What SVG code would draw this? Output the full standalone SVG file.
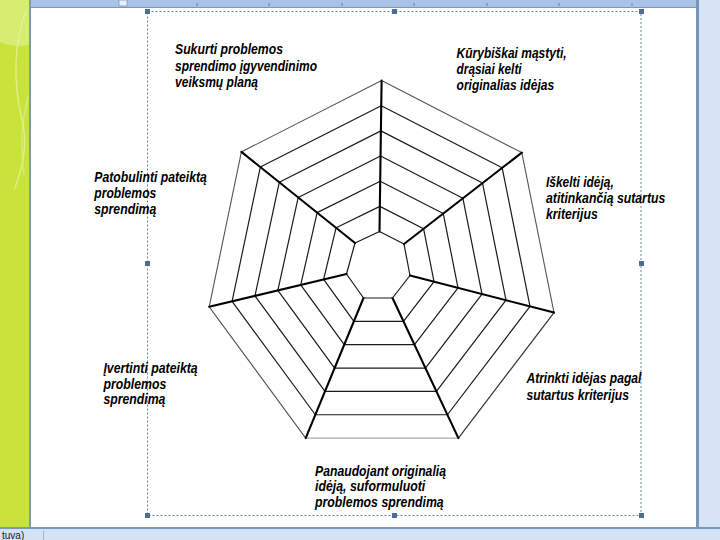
<svg xmlns="http://www.w3.org/2000/svg" width="720" height="540" viewBox="0 0 720 540">
<style>
.lbl{font-family:"Liberation Sans",Arial,sans-serif;font-size:14px;font-weight:bold;font-style:italic;fill:#000}
.ring{fill:none;stroke:#1a1a1a;stroke-width:1.2;stroke-linejoin:round}
.spoke{stroke:#000;stroke-width:2.1;stroke-linecap:round}
.hdl{fill:#4f6d94}
.tick{stroke:#5f7ea8;stroke-width:1}
</style>
<rect width="720" height="540" fill="#ffffff"/>
<g id="chrome">
  <rect x="0" y="0" width="29" height="540" fill="#c9e33b"/>
  <path d="M0,0 H29 V45 Q12,48 0,42 Z" fill="#dbee80" opacity="0.8"/>
  <path d="M26,10 Q8,60 22,120 Q30,150 14,190" fill="none" stroke="#e6f3a8" stroke-width="1.5" opacity="0.7"/>
  <path d="M29,95 Q18,130 24,175" fill="none" stroke="#e0f09a" stroke-width="1.5" opacity="0.6"/>
  <rect x="29" y="0" width="2" height="529" fill="#7d97bb"/>
  <rect x="31" y="0" width="689" height="7" fill="#a9c3e6"/>
  <line x1="31" y1="7.5" x2="700" y2="7.5" stroke="#7b96bb" stroke-width="1"/>
  <rect x="119" y="0" width="8" height="6" fill="#e9f0fa" stroke="#7f98bb" stroke-width="0.8"/>
  <line class="tick" x1="197" y1="3" x2="197" y2="6"/>
  <line class="tick" x1="269" y1="3" x2="269" y2="6"/>
  <line class="tick" x1="342" y1="3" x2="342" y2="6"/>
  <line class="tick" x1="414" y1="3" x2="414" y2="6"/>
  <line class="tick" x1="487" y1="3" x2="487" y2="6"/>
  <line class="tick" x1="559" y1="3" x2="559" y2="6"/>
  <line class="tick" x1="632" y1="3" x2="632" y2="6"/>
  <rect x="696" y="0" width="3" height="529" fill="#7b96bb"/>
  <rect x="699" y="0" width="21" height="529" fill="#d6e4f6"/>
  <rect x="0" y="527" width="720" height="2" fill="#7b96bb"/>
  <rect x="0" y="529" width="720" height="11" fill="#d3e2f4"/>
  <line x1="43.5" y1="530" x2="43.5" y2="540" stroke="#9fb5d2" stroke-width="1"/>
  <text x="2" y="539" font-family="'Liberation Sans',Arial,sans-serif" font-size="10" fill="#222">tuva)</text>
</g>
<g id="selection">
  <rect x="147.5" y="11.5" width="493.5" height="504" fill="none" stroke="#6a87aa" stroke-width="1" stroke-dasharray="2,2"/>
  <rect class="hdl" x="145" y="9" width="5" height="5"/>
  <rect class="hdl" x="392" y="9" width="5" height="5"/>
  <rect class="hdl" x="639" y="9" width="5" height="5"/>
  <rect class="hdl" x="145" y="261" width="5" height="5"/>
  <rect class="hdl" x="639" y="261" width="5" height="5"/>
  <rect class="hdl" x="145" y="513" width="5" height="5"/>
  <rect class="hdl" x="392" y="513" width="5" height="5"/>
  <rect class="hdl" x="639" y="513" width="5" height="5"/>
</g>
<g id="web">
  <polyline points="381.6,80.6 521.8,152.6 554,312.6" fill="none" stroke="#555" stroke-width="1.1"/>
  <polyline points="305.7,438.1 209.2,306.8 241.4,151.9 381.6,80.6" fill="none" stroke="#555" stroke-width="1.1"/>
  <polyline points="554,312.6 458.4,438.1" fill="none" stroke="#333" stroke-width="1.2"/>
  <line x1="305.7" y1="438.1" x2="458.4" y2="438.1" stroke="#aaa" stroke-width="1.2"/>
  <polygon class="ring" points="381.25,105.75 502.17,167.83 530,306.42 447.42,414.75 315.33,414.75 232.08,301.33 260.33,167.08"/>
  <polygon class="ring" points="380.9,130.9 482.53,183.07 506,300.23 436.43,391.4 324.97,391.4 254.97,295.87 279.27,182.27"/>
  <polygon class="ring" points="380.55,156.05 462.9,198.3 482,294.05 425.45,368.05 334.6,368.05 277.85,290.4 298.2,197.45"/>
  <polygon class="ring" points="380.2,181.2 443.27,213.53 458,287.87 414.47,344.7 344.23,344.7 300.73,284.93 317.13,212.63"/>
  <polygon class="ring" points="379.85,206.35 423.63,228.77 434,281.68 403.48,321.35 353.87,321.35 323.62,279.47 336.07,227.82"/>
  <polygon class="ring" points="379.5,231.5 404,244 410,275.5 392.5,298 363.5,298 346.5,274 355,243"/>
</g>
<g id="connectors">
  <line class="spoke" x1="381.6" y1="80.6" x2="379.5" y2="231.5"/>
  <line class="spoke" x1="521.8" y1="152.6" x2="404" y2="244"/>
  <line class="spoke" x1="554" y1="312.6" x2="410" y2="275.5"/>
  <line class="spoke" x1="458.4" y1="438.1" x2="392.5" y2="298"/>
  <line class="spoke" x1="305.7" y1="438.1" x2="363.5" y2="298"/>
  <line class="spoke" x1="209.2" y1="306.8" x2="346.5" y2="274"/>
  <line class="spoke" x1="241.4" y1="151.9" x2="355" y2="243"/>
</g>
<g id="n1">
  <text class="lbl" x="175" y="54.2" textLength="108" lengthAdjust="spacingAndGlyphs">Sukurti problemos</text>
  <text class="lbl" x="175" y="70.5" textLength="142" lengthAdjust="spacingAndGlyphs">sprendimo įgyvendinimo</text>
  <text class="lbl" x="175" y="86.8" textLength="83" lengthAdjust="spacingAndGlyphs">veiksmų planą</text>
</g>
<g id="n2">
  <text class="lbl" x="456.6" y="57.5" textLength="110" lengthAdjust="spacingAndGlyphs">Kūrybiškai mąstyti,</text>
  <text class="lbl" x="456.6" y="74" textLength="65" lengthAdjust="spacingAndGlyphs">drąsiai kelti</text>
  <text class="lbl" x="456.6" y="90.2" textLength="97.5" lengthAdjust="spacingAndGlyphs">originalias idėjas</text>
</g>
<g id="n3">
  <text class="lbl" x="94.3" y="182" textLength="112.6" lengthAdjust="spacingAndGlyphs">Patobulinti pateiktą</text>
  <text class="lbl" x="94.3" y="198" textLength="62" lengthAdjust="spacingAndGlyphs">problemos</text>
  <text class="lbl" x="94.3" y="213.5" textLength="62" lengthAdjust="spacingAndGlyphs">sprendimą</text>
</g>
<g id="n4">
  <text class="lbl" x="546" y="187.2" textLength="67.8" lengthAdjust="spacingAndGlyphs">Iškelti idėją,</text>
  <text class="lbl" x="546" y="203.3" textLength="119.3" lengthAdjust="spacingAndGlyphs">atitinkančią sutartus</text>
  <text class="lbl" x="546" y="218.8" textLength="51.7" lengthAdjust="spacingAndGlyphs">kriterijus</text>
</g>
<g id="n5">
  <text class="lbl" x="103.4" y="373" textLength="94.3" lengthAdjust="spacingAndGlyphs">Įvertinti pateiktą</text>
  <text class="lbl" x="103.4" y="388.5" textLength="63" lengthAdjust="spacingAndGlyphs">problemos</text>
  <text class="lbl" x="103.4" y="404" textLength="62" lengthAdjust="spacingAndGlyphs">sprendimą</text>
</g>
<g id="n6">
  <text class="lbl" x="526.4" y="383.3" textLength="115" lengthAdjust="spacingAndGlyphs">Atrinkti idėjas pagal</text>
  <text class="lbl" x="526.4" y="399.5" textLength="102.6" lengthAdjust="spacingAndGlyphs">sutartus kriterijus</text>
</g>
<g id="n7">
  <text class="lbl" x="315" y="476" textLength="131" lengthAdjust="spacingAndGlyphs">Panaudojant originalią</text>
  <text class="lbl" x="315" y="491.3" textLength="110.3" lengthAdjust="spacingAndGlyphs">idėją, suformuluoti</text>
  <text class="lbl" x="315" y="507.4" textLength="128.7" lengthAdjust="spacingAndGlyphs">problemos sprendimą</text>
</g>
</svg>
